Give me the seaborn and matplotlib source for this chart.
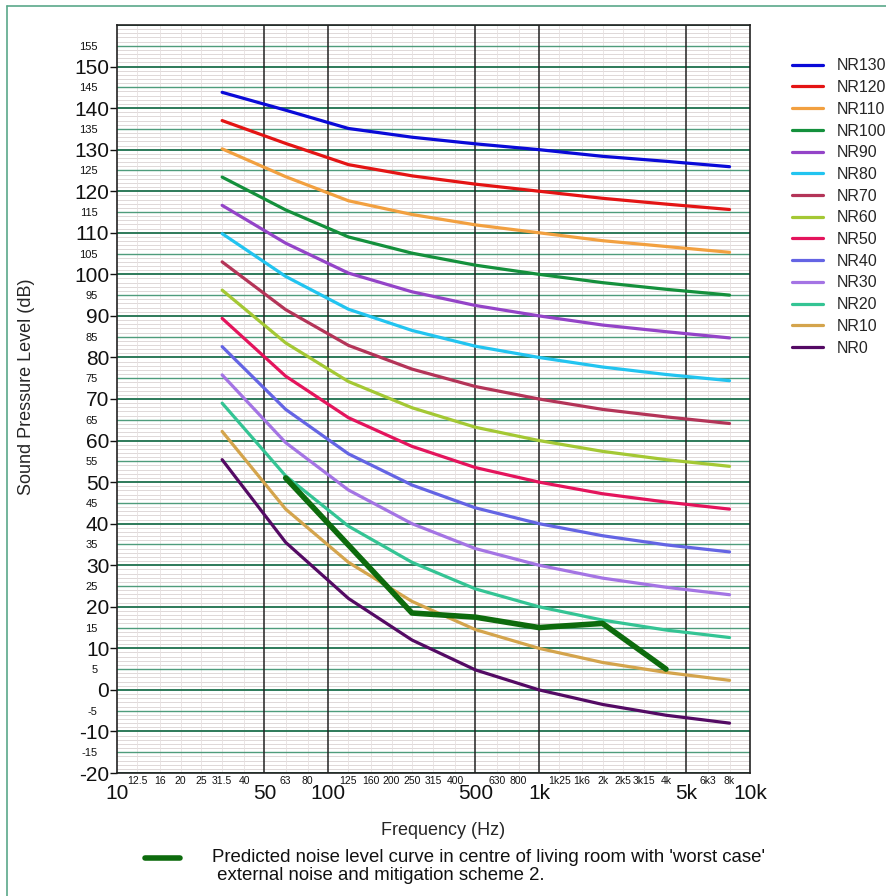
import matplotlib
matplotlib.use('Agg')
import matplotlib.pyplot as plt
from matplotlib.lines import Line2D
from matplotlib.ticker import FixedLocator, FixedFormatter
import pandas as pd
import seaborn as sns

# Bandas de oitava usadas nas curvas NR
freqs = [31.5, 63, 125, 250, 500, 1000, 2000, 4000, 8000]

nr_labels = ['NR130', 'NR120', 'NR110', 'NR100', 'NR90', 'NR80', 'NR70',
             'NR60', 'NR50', 'NR40', 'NR30', 'NR20', 'NR10', 'NR0']

nr130 = [143.8, 139.5, 135.1, 133.0, 131.4, 130.0, 128.4, 127.2, 125.9]
nr120 = [137.0, 131.5, 126.4, 123.7, 121.7, 120.0, 118.3, 116.9, 115.6]
nr110 = [130.2, 123.5, 117.7, 114.4, 111.9, 110.0, 108.1, 106.7, 105.3]
nr100 = [123.4, 115.5, 109.0, 105.1, 102.2, 100.0, 98.0, 96.4, 95.0]
nr90 = [116.6, 107.5, 100.3, 95.8, 92.5, 90.0, 87.8, 86.2, 84.7]
nr80 = [109.8, 99.5, 91.6, 86.5, 82.7, 80.0, 77.7, 75.9, 74.4]
nr70 = [103.0, 91.5, 82.9, 77.2, 73.0, 70.0, 67.5, 65.7, 64.1]
nr60 = [96.2, 83.5, 74.2, 67.9, 63.2, 60.0, 57.4, 55.4, 53.8]
nr50 = [89.4, 75.5, 65.5, 58.6, 53.5, 50.0, 47.2, 45.2, 43.5]
nr40 = [82.6, 67.5, 56.8, 49.3, 43.8, 40.0, 37.1, 34.9, 33.2]
nr30 = [75.8, 59.5, 48.1, 40.0, 34.0, 30.0, 26.9, 24.7, 22.9]
nr20 = [69.0, 51.5, 39.4, 30.7, 24.3, 20.0, 16.8, 14.4, 12.6]
nr10 = [62.2, 43.5, 30.7, 21.3, 14.5, 10.0, 6.6, 4.2, 2.3]
nr0 = [55.4, 35.5, 22.0, 12.0, 4.8, 0.0, -3.5, -6.1, -8.0]

nr_values = [nr130, nr120, nr110, nr100, nr90, nr80, nr70,
             nr60, nr50, nr40, nr30, nr20, nr10, nr0]

nr_colors = ['#0a0ad8', '#e41414', '#f2a040', '#14903c', '#9444c8', '#22c4f0',
             '#b43458', '#a4c834', '#e4145c', '#6464e4', '#a474e4', '#34c494',
             '#d4a44c', '#540a64']

# Curva prevista (sala de estar)
pred_freqs = [63, 250, 500, 1000, 2000, 4000]
pred_levels = [51.0, 18.5, 17.5, 15.0, 16.0, 5.0]
pred_color = '#0d6b0d'
pred_label = ("Predicted noise level curve in centre of living room with 'worst case'\n"
              " external noise and mitigation scheme 2.")

# Rotulos do eixo x
major_x = [10, 50, 100, 500, 1000, 5000, 10000]
major_x_labels = ['10', '50', '100', '500', '1k', '5k', '10k']
minor_x = [12.5, 16, 20, 25, 31.5, 40, 63, 80, 125, 160, 200, 250, 315, 400,
           630, 800, 1250, 1600, 2000, 2500, 3150, 4000, 6300, 8000]
minor_x_labels = ['12.5', '16', '20', '25', '31.5', '40', '63', '80', '125', '160',
                  '200', '250', '315', '400', '630', '800', '1k25', '1k6', '2k',
                  '2k5', '3k15', '4k', '6k3', '8k']

sns.set_style('white')
plt.rcParams['font.family'] = ['Liberation Sans', 'DejaVu Sans']
plt.rcParams['axes.unicode_minus'] = False

rows = []
for name, vals in zip(nr_labels, nr_values):
    for f, v in zip(freqs, vals):
        rows.append({'freq': f, 'level': v, 'curve': name})
df = pd.DataFrame(rows)
df_pred = pd.DataFrame({'freq': pred_freqs, 'level': pred_levels})

fig = plt.figure(figsize=(8.87, 8.96), dpi=100)
ax = fig.add_axes([117 / 887, 1 - 773 / 896, (750 - 117) / 887, (773 - 25) / 896])

# Grade: linhas de 1 dB, 5 dB e 10 dB
for y in range(-20, 161):
    if y % 10 == 0:
        ax.axhline(y, color='#2d7a5a', lw=1.4, zorder=1)
    elif y % 5 == 0:
        ax.axhline(y, color='#4f9c7c', lw=1.0, zorder=1)
    else:
        ax.axhline(y, color='#d9d2d2', lw=0.6, zorder=0)
for x in minor_x:
    ax.axvline(x, color='#e6e0e0', lw=0.6, zorder=0)
for x in [50, 100, 500, 1000, 5000]:
    ax.axvline(x, color='#222222', lw=1.1, zorder=2)

sns.lineplot(data=df, x='freq', y='level', hue='curve', hue_order=nr_labels,
             palette=dict(zip(nr_labels, nr_colors)), lw=2.3, ax=ax,
             legend=False, zorder=3)
sns.lineplot(data=df_pred, x='freq', y='level', color=pred_color, lw=4.0,
             ax=ax, zorder=4)

ax.set_xscale('log')
ax.set_xlim(10, 10000)
ax.set_ylim(-20, 160)

ax.xaxis.set_major_locator(FixedLocator(major_x))
ax.xaxis.set_major_formatter(FixedFormatter(major_x_labels))
ax.xaxis.set_minor_locator(FixedLocator(minor_x))
ax.xaxis.set_minor_formatter(FixedFormatter(minor_x_labels))
ax.tick_params(axis='x', which='major', length=0, pad=8, labelsize=15, colors='#111111')
ax.tick_params(axis='x', which='minor', length=0, pad=2, labelsize=7.5, colors='#111111')

ax.yaxis.set_major_locator(FixedLocator(list(range(-20, 151, 10))))
ax.yaxis.set_minor_locator(FixedLocator(list(range(-15, 156, 10))))
ax.yaxis.set_minor_formatter(FixedFormatter([str(v) for v in range(-15, 156, 10)]))
ax.tick_params(axis='y', which='major', left=True, length=5, width=1, pad=0.5,
               labelsize=15, colors='#111111')
ax.tick_params(axis='y', which='minor', left=True, length=0, pad=14, labelsize=8,
               colors='#111111')

for side in ['left', 'bottom', 'top', 'right']:
    ax.spines[side].set_visible(True)
    ax.spines[side].set_color('#222222')
    ax.spines[side].set_linewidth(1.2)

ax.set_xlabel('Frequency (Hz)', fontsize=13)
ax.set_ylabel('Sound Pressure Level (dB)', fontsize=13)
ax.xaxis.set_label_coords((443 - 117) / 633, -(822 - 773) / 748)
ax.yaxis.set_label_coords(-(117 - 35) / 633, (773 - 387) / 748)

# Legenda das curvas NR
nr_handles = [Line2D([0], [0], color=c, lw=2.3) for c in nr_colors]
fig.legend(nr_handles, nr_labels, loc='upper left',
           bbox_to_anchor=(778 / 887, 1 - 44 / 896), frameon=False,
           fontsize=11.5, handlelength=1.9, handletextpad=0.9, labelspacing=0.42)

# Legenda da curva prevista
fig.add_artist(Line2D([145 / 887, 180 / 887], [1 - 858 / 896, 1 - 858 / 896],
                      color=pred_color, lw=4.0))
fig.text(212 / 887, 1 - 849 / 896, pred_label, fontsize=13.4, va='top', ha='left',
         color='#111111', linespacing=1.05)

# Moldura verde da figura
fig.add_artist(Line2D([7 / 887, 7 / 887], [0, 1 - 6 / 896], color='#5aa88a', lw=1.2))
fig.add_artist(Line2D([7 / 887, 1], [1 - 6 / 896, 1 - 6 / 896], color='#5aa88a', lw=1.2))

fig.savefig('out.png', dpi=100)
